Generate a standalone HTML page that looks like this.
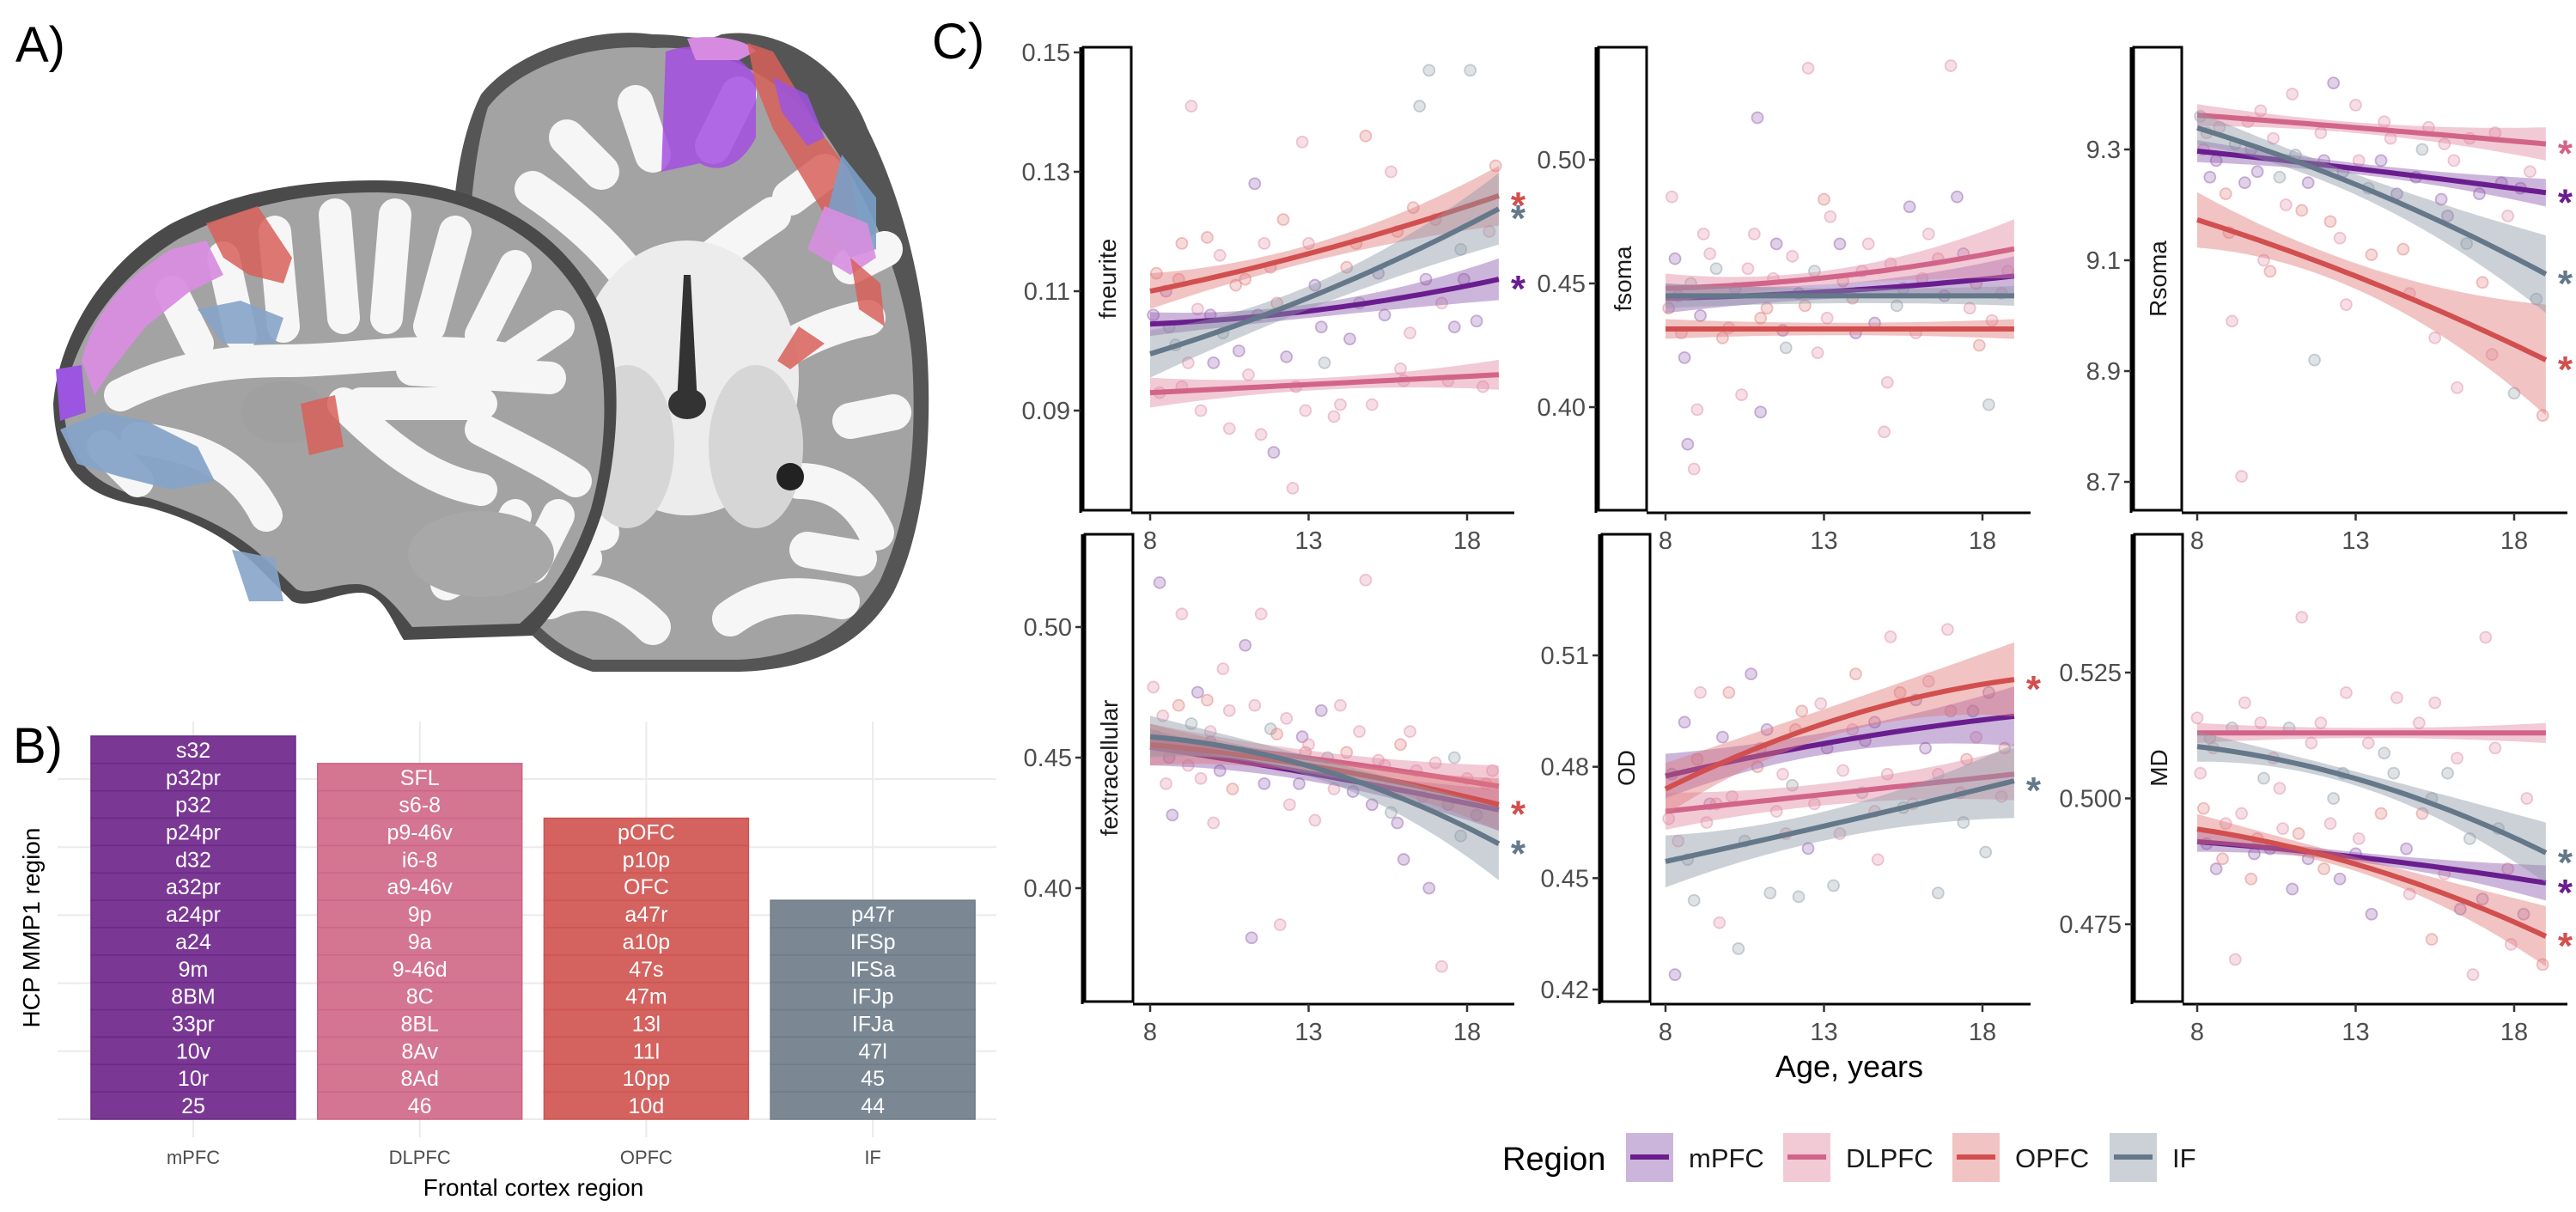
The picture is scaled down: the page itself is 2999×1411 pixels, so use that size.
<!DOCTYPE html>
<html><head><meta charset="utf-8"><style>
html,body{margin:0;padding:0;background:#fff;}
svg{display:block;font-family:"Liberation Sans",sans-serif;}
</style></head><body>
<svg id="fig" width="2999" height="1411" viewBox="0 0 2999 1411" xmlns="http://www.w3.org/2000/svg">
<rect width="2999" height="1411" fill="#fff"/>
<!-- Panel A -->
<g>
<text x="18" y="72" font-size="58" fill="#000">A)</text>
<g>
<path d="M560 110 C600 60 690 30 760 40 C800 40 820 50 840 40 C900 30 980 70 1010 150 C1050 230 1075 330 1080 420 C1085 520 1075 620 1040 690 C1000 760 930 780 860 782 L690 782 C620 760 580 700 560 640 C540 560 525 420 525 330 C525 230 535 160 560 110 Z" fill="#555"/>
<path d="M568 125 C606 75 690 50 760 56 C830 52 900 80 960 155 C1015 235 1055 330 1062 420 C1068 520 1058 600 1025 675 C985 745 920 765 860 768 L690 768 C628 746 588 694 574 622 C556 540 542 420 544 330 C546 250 552 178 568 125 Z" fill="#a3a3a3"/>
<g fill="none" stroke="#f6f6f6" stroke-linecap="round" stroke-width="42">
<path d="M620 220 C680 260 720 300 760 360 C790 330 840 290 900 250"/>
<path d="M600 400 C660 420 700 440 740 470 M880 430 C920 400 960 380 1010 370"/>
<path d="M600 560 C640 560 680 580 700 620 M930 560 C970 560 1000 580 1020 620"/>
<path d="M640 700 C680 680 720 690 760 730 M850 720 C890 690 930 690 980 700"/>
<path d="M660 160 L700 200 M740 120 L760 180 M860 110 L830 170 M960 200 L920 230"/>
<path d="M590 300 L640 320 M1030 290 L990 310 M580 480 L630 490 M1040 480 L990 490"/>
<path d="M620 640 L680 650 M940 640 L1000 650"/>
</g>
<ellipse cx="800" cy="440" rx="130" ry="160" fill="#ececec"/>
<ellipse cx="730" cy="520" rx="55" ry="95" fill="#d6d6d6"/>
<ellipse cx="880" cy="520" rx="55" ry="95" fill="#d6d6d6"/>
<path d="M796 320 L804 320 L812 470 L788 470 Z" fill="#333"/>
<ellipse cx="800" cy="470" rx="22" ry="18" fill="#333"/>
<ellipse cx="920" cy="555" rx="16" ry="16" fill="#222"/>
<path d="M775 60 C820 45 860 60 880 90 L880 160 C860 200 830 200 815 190 L770 200 Z" fill="#a34fe0" opacity="0.85"/>
<path d="M800 45 C830 40 870 45 880 60 L860 70 L810 70 Z" fill="#d68be0"/>
<path d="M870 50 L900 60 L930 110 L960 160 L990 200 L1000 260 L960 250 L930 200 L900 150 L880 100 Z" fill="#d8605a" opacity="0.85"/>
<path d="M900 90 L940 110 L960 160 L940 170 L910 130 Z" fill="#9b55e0" opacity="0.85"/>
<path d="M980 180 L1020 230 L1020 290 L990 300 L960 260 Z" fill="#7a9ec8" opacity="0.9"/>
<path d="M960 240 L1010 260 L1020 300 L990 320 L940 290 Z" fill="#d88ee0" opacity="0.9"/>
<path d="M990 300 L1025 330 L1030 380 L1000 360 Z" fill="#d8605a" opacity="0.85"/>
<path d="M930 380 L960 400 L920 430 L905 420 Z" fill="#d8605a" opacity="0.85"/>
</g>
<g>
<path d="M62 470 C70 380 130 300 200 260 C260 230 330 210 440 210 C560 210 660 270 700 360 C725 420 722 520 700 600 C680 660 650 710 620 740 L470 745 C455 720 445 690 420 690 C390 690 360 710 340 700 L300 660 C260 620 210 600 170 590 C110 580 65 560 62 470 Z" fill="#4a4a4a"/>
<path d="M74 470 C84 390 142 318 208 278 C268 246 338 224 440 224 C555 226 648 282 686 368 C710 430 708 520 688 592 C668 654 638 698 605 726 L480 730 C460 704 440 680 415 680 C385 680 362 694 345 686 L310 652 C268 612 218 594 174 580 C118 570 76 542 74 470 Z" fill="#a3a3a3"/>
<g fill="none" stroke="#f6f6f6" stroke-linecap="round" stroke-width="38">
<path d="M140 460 C200 430 260 420 330 420 C420 420 500 400 600 420"/>
<path d="M200 340 L230 400 M260 300 L280 390 M320 270 L330 380 M390 250 L400 370 M460 250 L450 370 M530 270 L500 380 M600 310 L560 390 M650 380 L590 420"/>
<path d="M160 510 C230 520 280 540 310 600 M400 470 C450 520 500 560 560 570 M560 500 C600 520 640 540 670 560"/>
<path d="M120 520 L160 560 M600 600 C580 640 560 660 520 680 M650 600 L620 660"/>
<path d="M420 470 L560 470 M480 430 L640 440"/>
</g>
<ellipse cx="560" cy="645" rx="85" ry="50" fill="#a8a8a8"/>
<ellipse cx="330" cy="480" rx="50" ry="36" fill="#a0a0a0"/>
<path d="M95 420 C110 360 150 320 200 290 L240 280 L260 320 L220 340 L170 380 L130 430 L110 460 Z" fill="#d88ee0" opacity="0.95"/>
<path d="M240 260 L300 240 L340 300 L330 330 L290 320 L260 300 Z" fill="#d8605a" opacity="0.85"/>
<path d="M65 430 L95 425 L100 480 L70 490 Z" fill="#9b55e0"/>
<path d="M70 500 L120 480 L170 490 L230 520 L250 560 L200 570 L140 555 L90 540 Z" fill="#86a4c8" opacity="0.95"/>
<path d="M230 360 L280 350 L330 370 L320 400 L260 400 Z" fill="#86a4c8" opacity="0.9"/>
<path d="M350 470 L390 460 L400 520 L360 530 Z" fill="#d8605a" opacity="0.85"/>
<path d="M270 640 L320 650 L330 700 L290 700 Z" fill="#86a4c8" opacity="0.9"/>
</g>
</g>

<!-- Panel B -->
<g id="panelB">
<text x="15" y="888" font-size="58" fill="#000">B)</text>
</g>

<!-- Panel C -->
<g id="panelC">
<text x="1085" y="68" font-size="58" fill="#000">C)</text>
<text x="2153" y="1254" font-size="36" text-anchor="middle" fill="#000">Age, years</text>
</g>
<g id="legend"></g>
</svg>
<script>
// ===== Panel B data =====
const bRegions = ["mPFC","DLPFC","OPFC","IF"];
const bLabels = [
 ["s32","p32pr","p32","p24pr","d32","a32pr","a24pr","a24","9m","8BM","33pr","10v","10r","25"],
 ["SFL","s6-8","p9-46v","i6-8","a9-46v","9p","9a","9-46d","8C","8BL","8Av","8Ad","46"],
 ["pOFC","p10p","OFC","a47r","a10p","47s","47m","13l","11l","10pp","10d"],
 ["p47r","IFSp","IFSa","IFJp","IFJa","47l","45","44"]
];
const bColors = ["#7a3894","#d47592","#d4625f","#7b8894"];
const bEdge = ["#6a2a86","#cc6688","#cc5552","#6e7c88"];

const NS="http://www.w3.org/2000/svg";
function mk(tag, attrs, parent){const e=document.createElementNS(NS,tag);for(const k in attrs)e.setAttribute(k,attrs[k]);parent.appendChild(e);return e;}

(function(){
 const g=document.getElementById('panelB');
 const base=1303, rowH=31.86, barW=238, x0=225, step=263.7;
 for(let i=0;i<=5;i++){const y=base-i*79.2;const l=mk('line',{x1:67,x2:1160,y1:y,y2:y,stroke:'#ebebeb','stroke-width':2},g);
  
  }
 bRegions.forEach((r,i)=>{const cx=x0+i*step;const l=mk('line',{x1:cx,x2:cx,y1:840,y2:1324,stroke:'#ebebeb','stroke-width':2},g);
  
  });
 bRegions.forEach((r,i)=>{
  const cx=x0+i*step;const labs=bLabels[i];const n=labs.length;
  labs.forEach((lab,j)=>{
   const y=base-(n-j)*rowH;
   const rc=mk('rect',{x:cx-barW/2,y:y,width:barW,height:rowH,fill:bColors[i],stroke:bEdge[i],'stroke-width':1.5},g);
   
   
   const t=mk('text',{x:cx,y:y+rowH/2+9,'font-size':25,'text-anchor':'middle',fill:'#fff'},g);t.textContent=lab;
   
   
  });
  const t=mk('text',{x:cx,y:1355,'font-size':22,'text-anchor':'middle',fill:'#4d4d4d'},g);t.textContent=r;
  
  
 });
 const xt=mk('text',{x:621,y:1392,'font-size':28,'text-anchor':'middle',fill:'#000'},g);xt.textContent='Frontal cortex region';
 
 
 const yt=mk('text',{x:0,y:0,'font-size':28,'text-anchor':'middle',fill:'#000',transform:'translate(46,1080) rotate(-90)'},g);yt.textContent='HCP MMP1 region';
 
 
})();

// ===== Panel C data =====
const regions = ["mPFC","DLPFC","OPFC","IF"];
const lineColors = ["#6a1d8e","#d2648a","#d24f4f","#64788a"];
const fillColors = ["#8e5aae","#e08aa5","#e07a7a","#8d9aa6"];
const ages = [8, 13.5, 19];
const metrics = ["fneurite","fsoma","Rsoma","fextracellular","OD","MD"];
const yTicks = [[0.09,0.11,0.13,0.15],[0.40,0.45,0.50],[8.7,8.9,9.1,9.3],[0.40,0.45,0.50],[0.42,0.45,0.48,0.51],[0.475,0.500,0.525]];
const yTickLabels = [["0.09","0.11","0.13","0.15"],["0.40","0.45","0.50"],["8.7","8.9","9.1","9.3"],["0.40","0.45","0.50"],["0.42","0.45","0.48","0.51"],["0.475","0.500","0.525"]];
const xTicks = [8,13,18];
const fitFneurite = [[0.1045,0.1070,0.1120],[0.0930,0.0945,0.0960],[0.1100,0.1170,0.1260],[0.0995,0.1100,0.1238]];
const ciFneurite  = [[0.0020,0.0012,0.0035],[0.0025,0.0010,0.0025],[0.0030,0.0015,0.0050],[0.0040,0.0020,0.0060]];
const fitFsoma = [[0.444,0.447,0.453],[0.448,0.453,0.464],[0.4316,0.4316,0.4316],[0.445,0.445,0.445]];
const ciFsoma  = [[0.006,0.003,0.008],[0.006,0.003,0.012],[0.004,0.0025,0.004],[0.005,0.003,0.004]];
const fitRsoma = [[9.297,9.262,9.222],[9.362,9.337,9.310],[9.173,9.060,8.920],[9.339,9.225,9.075]];
const ciRsoma  = [[0.020,0.010,0.025],[0.020,0.010,0.030],[0.050,0.025,0.100],[0.030,0.020,0.070]];
const fitFextra = [[0.454,0.443,0.430],[0.457,0.449,0.439],[0.455,0.446,0.432],[0.458,0.445,0.417]];
const ciFextra  = [[0.007,0.003,0.008],[0.006,0.003,0.008],[0.008,0.003,0.010],[0.008,0.004,0.014]];
const fitOD = [[0.4775,0.4870,0.4936],[0.4680,0.4730,0.4780],[0.4740,0.4930,0.5035],[0.4545,0.4650,0.4762]];
const ciOD  = [[0.006,0.003,0.008],[0.005,0.003,0.007],[0.007,0.004,0.010],[0.007,0.004,0.010]];
const fitMD = [[0.4914,0.4880,0.4832],[0.5130,0.5130,0.5130],[0.4939,0.4860,0.4726],[0.5103,0.5030,0.4892]];
const ciMD  = [[0.0020,0.0010,0.0035],[0.0020,0.0010,0.0020],[0.0030,0.0015,0.0060],[0.0030,0.0015,0.0060]];
const signif = [[1,0,1,1],[0,0,0,0],[1,1,1,1],[0,0,1,1],[0,0,1,1],[1,0,1,1]];
// scatter observations: [age, value, regionIndex]
const ptsFneurite = [[8.2,0.113,2],[8.5,0.110,0],[8.8,0.101,3],[9.0,0.094,1],[9.3,0.141,1],[9.5,0.107,1],[9.8,0.119,2],[10.2,0.116,1],[10.5,0.087,1],[10.8,0.100,0],[11.0,0.112,2],[11.3,0.128,0],[11.6,0.118,1],[11.9,0.083,0],[12.2,0.122,2],[12.5,0.077,1],[12.8,0.135,1],[13.2,0.111,0],[13.5,0.098,3],[14.0,0.091,1],[14.3,0.102,0],[14.8,0.136,2],[15.2,0.113,0],[15.6,0.130,1],[15.9,0.097,1],[16.3,0.124,2],[16.5,0.141,3],[16.8,0.147,3],[17.2,0.108,1],[17.6,0.104,0],[18.1,0.147,3],[18.5,0.094,1],[18.9,0.131,2],[9.0,0.118,2],[10.0,0.098,0],[12.0,0.108,2],[14.5,0.118,2],[16.0,0.095,1],[17.9,0.112,0],[11.5,0.086,1],
 [8.1,0.106,0],[8.3,0.093,1],[8.6,0.104,3],[8.9,0.112,2],[9.2,0.098,1],[9.6,0.090,1],[9.9,0.106,0],[10.3,0.103,3],[10.7,0.111,2],[11.1,0.096,1],[11.4,0.106,0],[11.8,0.114,2],[12.3,0.099,0],[12.6,0.094,1],[13.0,0.118,1],[13.4,0.104,0],[13.8,0.089,1],[14.2,0.114,2],[14.6,0.108,3],[15.0,0.091,1],[15.4,0.106,0],[15.8,0.120,2],[16.2,0.103,1],[16.7,0.112,0],[17.0,0.122,2],[17.4,0.095,1],[17.8,0.117,3],[18.3,0.105,0],[18.7,0.120,1],[12.9,0.090,1]];
const ptsFsoma = [[8.2,0.485,1],[8.4,0.445,0],[8.6,0.420,0],[8.7,0.385,0],[8.9,0.375,1],[9.2,0.470,1],[9.6,0.456,3],[10.0,0.432,1],[10.4,0.405,1],[10.9,0.517,0],[11.2,0.440,2],[11.5,0.466,0],[11.8,0.424,3],[12.2,0.446,0],[12.5,0.537,1],[12.8,0.422,1],[13.2,0.477,1],[13.6,0.451,2],[14.0,0.430,0],[14.4,0.466,1],[14.9,0.390,1],[15.3,0.441,3],[15.7,0.481,0],[16.1,0.452,1],[16.6,0.460,2],[17.0,0.538,1],[17.2,0.485,0],[17.6,0.440,1],[18.2,0.401,3],[18.6,0.446,1],[9.0,0.399,1],[11.0,0.398,0],[13.0,0.484,2],[15.0,0.410,1],[17.9,0.425,2],
 [8.1,0.440,2],[8.3,0.460,0],[8.5,0.430,1],[8.8,0.450,3],[9.1,0.437,0],[9.4,0.462,1],[9.8,0.428,2],[10.2,0.448,0],[10.6,0.456,1],[11.0,0.436,2],[11.4,0.452,1],[11.7,0.431,0],[12.0,0.461,1],[12.4,0.441,2],[12.7,0.455,3],[13.1,0.436,1],[13.5,0.466,0],[13.9,0.444,2],[14.2,0.455,1],[14.6,0.434,0],[15.1,0.458,1],[15.5,0.448,3],[15.9,0.430,1],[16.3,0.470,1],[16.8,0.445,0],[17.4,0.462,0],[17.8,0.450,2],[18.3,0.435,1],[18.8,0.455,1],[10.8,0.470,1]];
const ptsRsoma = [[8.2,9.30,1],[8.4,9.25,0],[8.7,9.34,1],[9.0,9.15,2],[9.1,8.99,1],[9.4,8.71,1],[9.7,9.30,0],[10.0,9.37,1],[10.3,9.08,2],[10.6,9.25,3],[11.0,9.40,1],[11.3,9.19,2],[11.7,8.92,3],[12.0,9.28,0],[12.3,9.42,0],[12.7,9.02,1],[13.1,9.28,1],[13.5,9.11,2],[13.9,9.35,1],[14.3,9.22,0],[14.7,9.04,1],[15.1,9.30,3],[15.5,8.96,1],[15.9,9.18,0],[16.2,8.87,1],[16.6,9.32,1],[17.0,9.06,2],[17.3,8.93,1],[17.6,9.24,0],[18.0,8.86,3],[18.5,9.26,1],[18.9,8.82,2],[9.5,9.24,0],[12.5,9.14,1],[15.8,9.31,1],
 [8.1,9.36,3],[8.3,9.33,1],[8.6,9.28,0],[8.9,9.22,2],[9.2,9.31,3],[9.6,9.35,1],[9.9,9.26,0],[10.4,9.32,1],[10.8,9.20,1],[11.1,9.29,3],[11.5,9.24,0],[11.9,9.33,1],[12.2,9.17,2],[12.6,9.26,0],[13.0,9.38,1],[13.4,9.23,3],[13.8,9.28,0],[14.1,9.32,1],[14.5,9.12,2],[14.9,9.25,0],[15.3,9.34,1],[15.7,9.21,0],[16.1,9.28,1],[16.5,9.13,3],[16.9,9.22,0],[17.4,9.33,1],[17.8,9.18,1],[18.2,9.23,0],[18.7,9.03,3],[10.1,9.10,1]];
const ptsFextra = [[8.1,0.477,1],[8.3,0.517,0],[8.5,0.440,1],[8.7,0.428,0],[9.0,0.505,1],[9.3,0.463,3],[9.6,0.442,1],[9.9,0.456,0],[10.3,0.484,1],[10.6,0.438,2],[11.0,0.493,0],[11.2,0.381,0],[11.5,0.505,1],[11.8,0.461,3],[12.1,0.386,1],[12.4,0.432,1],[12.8,0.458,0],[13.2,0.426,1],[13.6,0.450,3],[14.0,0.470,1],[14.4,0.437,0],[14.8,0.518,1],[15.2,0.449,1],[15.6,0.429,3],[16.0,0.411,0],[16.4,0.445,1],[16.8,0.400,0],[17.2,0.370,1],[17.6,0.450,3],[18.0,0.442,1],[18.6,0.440,1],[9.8,0.472,2],[12.9,0.452,2],[15.9,0.455,2],[17.4,0.432,0],
 [8.2,0.458,3],[8.4,0.466,1],[8.6,0.450,0],[8.9,0.470,2],[9.2,0.447,1],[9.5,0.475,0],[9.9,0.460,1],[10.2,0.445,0],[10.5,0.468,1],[10.9,0.452,3],[11.3,0.470,1],[11.6,0.440,0],[12.0,0.459,2],[12.3,0.465,1],[12.7,0.440,0],[13.0,0.455,1],[13.4,0.468,0],[13.8,0.438,1],[14.2,0.452,2],[14.6,0.460,1],[15.0,0.432,0],[15.4,0.447,1],[15.8,0.425,0],[16.2,0.460,1],[16.6,0.435,2],[17.0,0.448,1],[17.8,0.420,3],[18.3,0.428,0],[18.8,0.445,1],[10.0,0.425,1]];
const ptsOD = [[8.1,0.466,1],[8.3,0.424,0],[8.6,0.492,0],[8.9,0.444,3],[9.1,0.500,1],[9.4,0.470,0],[9.7,0.438,1],[10.0,0.500,2],[10.3,0.431,3],[10.7,0.505,0],[11.0,0.485,1],[11.3,0.446,3],[11.7,0.478,1],[12.1,0.490,2],[12.5,0.458,0],[12.9,0.497,1],[13.3,0.448,3],[13.6,0.479,1],[14.0,0.505,2],[14.3,0.487,0],[14.7,0.455,1],[15.1,0.515,1],[15.5,0.469,3],[15.9,0.498,0],[16.3,0.503,1],[16.6,0.446,3],[16.9,0.517,1],[17.3,0.473,2],[17.7,0.495,0],[18.1,0.457,3],[18.6,0.472,1],[9.6,0.470,2],[11.8,0.462,1],[14.6,0.468,1],[17.5,0.482,2],
 [8.2,0.478,0],[8.4,0.460,1],[8.7,0.455,3],[9.0,0.482,2],[9.3,0.465,1],[9.8,0.488,0],[10.1,0.472,1],[10.5,0.460,3],[10.9,0.480,2],[11.2,0.490,0],[11.5,0.468,1],[12.0,0.475,3],[12.3,0.495,2],[12.7,0.470,1],[13.1,0.485,0],[13.5,0.462,1],[13.9,0.490,1],[14.2,0.473,3],[14.6,0.492,0],[15.0,0.478,1],[15.4,0.500,2],[15.8,0.470,1],[16.2,0.485,0],[16.6,0.478,1],[17.0,0.495,2],[17.4,0.465,3],[17.8,0.488,1],[18.2,0.500,0],[18.7,0.485,2],[12.2,0.445,3]];
const ptsMD = [[8.0,0.516,1],[8.2,0.498,2],[8.4,0.512,3],[8.6,0.486,0],[8.9,0.495,1],[9.2,0.468,1],[9.5,0.519,1],[9.8,0.489,0],[10.1,0.504,3],[10.4,0.508,1],[10.7,0.494,1],[11.0,0.482,0],[11.3,0.536,1],[11.6,0.511,1],[12.0,0.486,2],[12.3,0.500,3],[12.7,0.521,1],[13.1,0.492,1],[13.5,0.477,0],[13.9,0.509,3],[14.3,0.520,1],[14.7,0.481,1],[15.1,0.497,2],[15.5,0.519,1],[15.9,0.505,3],[16.3,0.478,0],[16.7,0.465,1],[17.1,0.532,1],[17.5,0.494,3],[17.9,0.471,1],[18.4,0.500,1],[18.9,0.467,2],[9.9,0.492,2],[12.5,0.484,0],[15.4,0.472,2],
 [8.1,0.505,1],[8.3,0.491,0],[8.5,0.510,1],[8.8,0.488,2],[9.1,0.514,3],[9.4,0.497,1],[9.7,0.484,2],[10.0,0.515,1],[10.3,0.490,0],[10.6,0.502,1],[10.9,0.514,3],[11.2,0.493,2],[11.5,0.488,0],[11.9,0.515,1],[12.2,0.495,1],[12.6,0.505,3],[13.0,0.489,0],[13.4,0.511,1],[13.8,0.497,2],[14.2,0.505,3],[14.6,0.490,0],[15.0,0.515,1],[15.4,0.500,3],[15.8,0.485,1],[16.2,0.508,1],[16.6,0.492,3],[17.0,0.480,0],[17.4,0.510,1],[17.8,0.486,2],[18.3,0.477,0]];

// layout (positions, not data)
const panelGeom = [
 {ax:1258, x8:1339, top:55, bot:594, yv:[0.15,0.09], yp:[61,478], xend:1763},
 {ax:1858, x8:1939, top:55, bot:594, yv:[0.50,0.40], yp:[186,474], xend:2364},
 {ax:2481, x8:2558, top:55, bot:594, yv:[9.3,8.7], yp:[174,561], xend:2989},
 {ax:1260, x8:1339, top:622, bot:1166, yv:[0.50,0.40], yp:[730,1034], xend:1763},
 {ax:1862, x8:1939, top:622, bot:1166, yv:[0.51,0.42], yp:[763,1152], xend:2364},
 {ax:2482, x8:2558, top:622, bot:1166, yv:[0.525,0.475], yp:[783,1076], xend:2989}
];
const allFits=[fitFneurite,fitFsoma,fitRsoma,fitFextra,fitOD,fitMD];
const allCis=[ciFneurite,ciFsoma,ciRsoma,ciFextra,ciOD,ciMD];
const allPts=[ptsFneurite,ptsFsoma,ptsRsoma,ptsFextra,ptsOD,ptsMD];

function quad(v,t){
 const a0=ages[0],a1=ages[1],a2=ages[2];
 return v[0]*((t-a1)*(t-a2))/((a0-a1)*(a0-a2))+v[1]*((t-a0)*(t-a2))/((a1-a0)*(a1-a2))+v[2]*((t-a0)*(t-a1))/((a2-a0)*(a2-a1));
}
(function(){
 const g=document.getElementById('panelC');
 panelGeom.forEach((pg,pi)=>{
  const pxPerYear=36.9;
  const X=a=>pg.x8+(a-8)*pxPerYear;
  const Y=v=>pg.yp[0]+(v-pg.yv[0])*(pg.yp[1]-pg.yp[0])/(pg.yv[1]-pg.yv[0]);
  const pgEl=mk('g',{},g);
  
  
  allPts[pi].forEach(p=>{
   const c=mk('circle',{cx:X(p[0]),cy:Y(p[1]),r:6.5,fill:fillColors[p[2]],'fill-opacity':0.28,stroke:fillColors[p[2]],'stroke-opacity':0.45,'stroke-width':1.8},pgEl);
   
   
  });
  const fits=allFits[pi], cis=allCis[pi];
  regions.forEach((r,ri)=>{
   const up=[],lo=[],ln=[];
   for(let k=0;k<=40;k++){const a=8+11*k/40;const m=quad(fits[ri],a);const h=quad(cis[ri],a);
    up.push(X(a).toFixed(1)+','+Y(m+h).toFixed(1));lo.unshift(X(a).toFixed(1)+','+Y(m-h).toFixed(1));ln.push(X(a).toFixed(1)+','+Y(m).toFixed(1));}
   const rb=mk('polygon',{points:up.concat(lo).join(' '),fill:fillColors[ri],'fill-opacity':0.45},pgEl);
   
   
   const pl=mk('polyline',{points:ln.join(' '),fill:'none',stroke:lineColors[ri],'stroke-width':6},pgEl);
   
   
   if(signif[pi][ri]){
    const st=mk('text',{x:X(19)+14,y:Y(fits[ri][2])+26,'font-size':44,'font-weight':'bold',fill:lineColors[ri]},pgEl);st.textContent='*';
    
    
   }
  });
  const ya=mk('line',{x1:pg.ax,x2:pg.ax,y1:pg.top,y2:pg.bot+3,stroke:'#000','stroke-width':3},pgEl);
  
  
  const strip=mk('rect',{x:pg.ax+3,y:pg.top,width:56,height:pg.bot-pg.top,fill:'#fff',stroke:'#000','stroke-width':3},pgEl);
  
  
  const st=mk('text',{x:0,y:0,'font-size':28,'text-anchor':'middle',fill:'#1a1a1a',transform:'translate('+(pg.ax+41)+','+((pg.top+pg.bot)/2)+') rotate(-90)'},pgEl);st.textContent=metrics[pi];
  
  
  const xa=mk('line',{x1:pg.ax+59,x2:pg.xend,y1:pg.bot+3,y2:pg.bot+3,stroke:'#000','stroke-width':3},pgEl);
  
  
  xTicks.forEach(t=>{
   const tk=mk('line',{x1:X(t),x2:X(t),y1:pg.bot+3,y2:pg.bot+12,stroke:'#333','stroke-width':2.5},pgEl);
   
   
   const tl=mk('text',{x:X(t),y:pg.bot+45,'font-size':29,'text-anchor':'middle',fill:'#4d4d4d'},pgEl);tl.textContent=t;
   
   
  });
  yTicks[pi].forEach((t,ti)=>{
   const y=Y(t);
   const tk=mk('line',{x1:pg.ax-8,x2:pg.ax,y1:y,y2:y,stroke:'#333','stroke-width':2.5},pgEl);
   
   
   const tl=mk('text',{x:pg.ax-12,y:y+10,'font-size':29,'text-anchor':'end',fill:'#4d4d4d'},pgEl);tl.textContent=yTickLabels[pi][ti];
   
   
  });
 });
 const lg=document.getElementById('legend');
 const rt=mk('text',{x:1749,y:1362,'font-size':38,fill:'#000'},lg);rt.textContent='Region';
 
 
 const keyX=[1893,2076,2273,2456];
 regions.forEach((r,ri)=>{
  const kx=keyX[ri];
  const kb=mk('rect',{x:kx,y:1319,width:55,height:57,fill:fillColors[ri],'fill-opacity':0.45},lg);
  
  
  const kl=mk('line',{x1:kx+5,x2:kx+50,y1:1347,y2:1347,stroke:lineColors[ri],'stroke-width':6},lg);
  
  
  const kt=mk('text',{x:kx+73,y:1359,'font-size':31,fill:'#1a1a1a'},lg);kt.textContent=r;
  
  
 });
})();
</script>
</body></html>
